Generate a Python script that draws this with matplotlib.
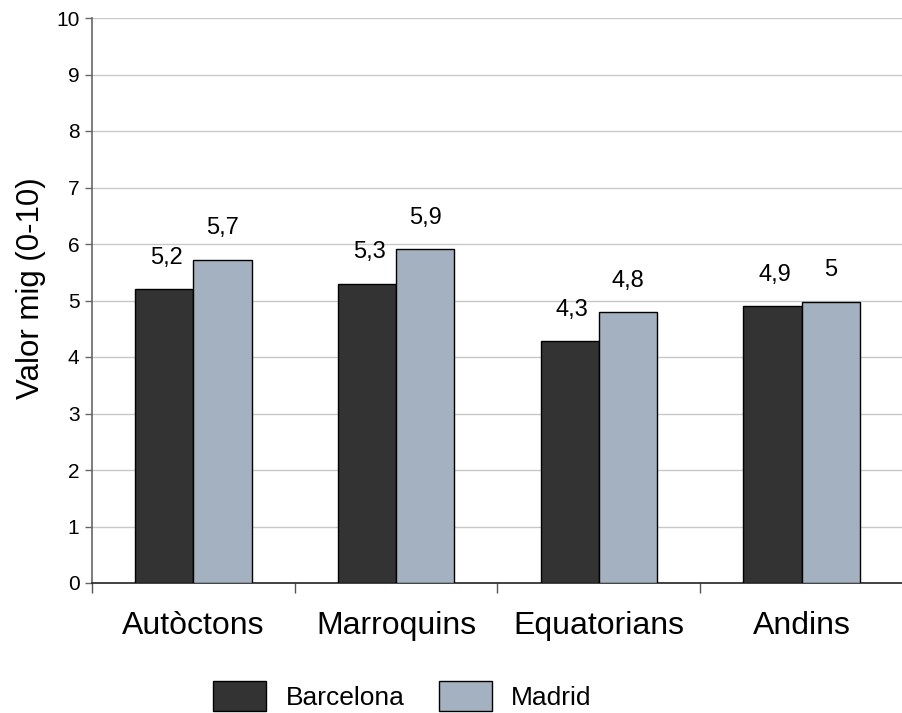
import matplotlib
matplotlib.use("Agg")
import matplotlib.pyplot as plt
import numpy as np

plt.rcParams['font.family'] = ['Liberation Sans', 'DejaVu Sans']

categories = ["Autòctons", "Marroquins", "Equatorians", "Andins"]
barcelona = [5.2, 5.3, 4.28, 4.9]
madrid = [5.72, 5.91, 4.79, 4.98]
barcelona_labels = ["5,2", "5,3", "4,3", "4,9"]
madrid_labels = ["5,7", "5,9", "4,8", "5"]
yticks = [0, 1, 2, 3, 4, 5, 6, 7, 8, 9, 10]

W, H = 903, 713
fig = plt.figure(figsize=(W / 100, H / 100), dpi=100)
ax = fig.add_axes([92 / W, 1 - 583 / H, (903 - 92) / W, (583 - 18) / H])

x = np.arange(len(categories))
bw = 0.287
c_bcn = "#333333"
c_mad = "#A3B1C0"
ax.bar(x - bw / 2, barcelona, bw, color=c_bcn, edgecolor="black", linewidth=1.0, label="Barcelona", zorder=3)
ax.bar(x + bw / 2, madrid, bw, color=c_mad, edgecolor="black", linewidth=1.0, label="Madrid", zorder=3)

for xi, v, lab in zip(x, barcelona, barcelona_labels):
    ax.text(xi - bw / 2 + 0.01, v + 0.36, lab, ha="center", va="bottom", fontsize=17)
for xi, v, lab in zip(x, madrid, madrid_labels):
    ax.text(xi + bw / 2, v + 0.36, lab, ha="center", va="bottom", fontsize=17)

ax.set_ylim(0, 10)
ax.set_xlim(-0.5, 811 / 204.5 - 0.5)
ax.set_yticks(yticks)
ax.set_yticklabels([str(t) for t in yticks], fontsize=15)
ax.yaxis.grid(True, color="#C8C8C8", linewidth=1.0, zorder=0)
ax.set_axisbelow(True)

ax.set_xticks(np.arange(len(categories) + 1) - 0.5, minor=False)
ax.set_xticklabels([])
ax.tick_params(axis="x", which="major", length=7, width=1, color="#555555", direction="out")
ax.set_xticks(x, minor=True)
ax.set_xticklabels(categories, minor=True, fontsize=23)
ax.tick_params(axis="x", which="minor", length=0, pad=20)
ax.tick_params(axis="y", length=5, width=1, color="#666666", pad=4)

for s in ["top", "right"]:
    ax.spines[s].set_visible(False)
ax.spines["left"].set_color("#666666")
ax.spines["left"].set_linewidth(1.2)
ax.spines["bottom"].set_color("#222222")
ax.spines["bottom"].set_linewidth(1.2)

ax.set_ylabel("Valor mig (0-10)", fontsize=22.5)
ax.yaxis.set_label_coords(-0.057, 0.522)

handles, labels = ax.get_legend_handles_labels()
fig.legend(handles, labels, loc="center left", bbox_to_anchor=(213 / W, 1 - 696 / H),
           ncol=2, frameon=False, fontsize=19, handlelength=2.0, handleheight=1.35,
           handletextpad=0.75, columnspacing=1.3, borderpad=0, borderaxespad=0)

fig.savefig("out.png", dpi=100)
